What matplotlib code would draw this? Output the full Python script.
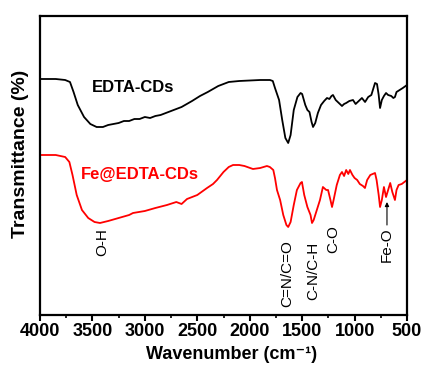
import matplotlib
matplotlib.use("Agg")
import matplotlib.pyplot as plt
from matplotlib.ticker import MultipleLocator

plt.rcParams['font.family'] = ['Liberation Sans', 'DejaVu Sans']

# ---- data (wavenumber in cm^-1, transmittance in arbitrary units) ----
edta_wn = [4000, 3850, 3760, 3714, 3680, 3640, 3580, 3520, 3460, 3400, 3350, 3300, 3250, 3200,
           3150, 3100, 3050, 3000, 2950, 2900, 2850, 2800, 2750, 2700, 2650, 2600, 2550, 2474,
           2400, 2300, 2200, 2100, 2000, 1900, 1807, 1780, 1759, 1720, 1690, 1660, 1633, 1610,
           1580, 1545, 1515, 1500, 1470, 1450, 1430, 1410, 1396, 1375, 1350, 1320, 1290, 1263,
           1240, 1220, 1206, 1180, 1150, 1120, 1100, 1080, 1050, 1015, 990, 960, 930, 900, 870,
           840, 805, 786, 770, 757, 740, 720, 700, 680, 650, 630, 615, 600, 570, 540, 500]
edta_t = [236, 236, 235, 233, 223, 210, 198, 191, 188, 188, 190, 191, 192, 194,
          194, 196, 196, 198, 197, 199, 200, 202, 204, 206, 208, 211, 214, 219,
          223, 229, 233, 234, 234.5, 235, 235, 234, 227, 215, 195, 177, 172, 180,
          205, 218, 222, 221, 210, 205, 203, 193, 188, 192, 202, 210, 214, 217,
          216, 219, 220, 215, 212, 209, 211, 212, 214, 215, 211, 214, 217, 213, 218,
          220, 232, 231, 220, 207, 215, 219, 222, 220, 219, 217, 218, 223, 225, 227, 230]

fe_wn = [4000, 3850, 3760, 3720, 3690, 3650, 3600, 3540, 3480, 3428, 3350, 3250, 3150, 3113,
         3000, 2900, 2789, 2700, 2650, 2598, 2500, 2407, 2350, 2312, 2250, 2200, 2159, 2100,
         2050, 1969, 1900, 1836, 1808, 1775, 1759, 1740, 1710, 1680, 1650, 1633, 1610, 1580,
         1550, 1515, 1502, 1480, 1450, 1420, 1406, 1390, 1360, 1330, 1302, 1270, 1253, 1230,
         1215, 1200, 1170, 1140, 1120, 1100, 1080, 1060, 1044, 1020, 1000, 975, 950, 920, 901,
         880, 850, 805, 790, 770, 757, 740, 720, 700, 680, 660, 640, 615, 600, 580, 550, 500]
fe_t = [160, 160, 158, 153, 140, 120, 105, 97, 93, 92, 94, 97, 100, 102,
        104, 107, 110, 113, 111, 116, 120, 127, 131, 135, 143, 148, 150, 150,
        149, 146, 147, 149, 148, 145, 137, 125, 115, 100, 90, 88, 93, 110,
        125, 132, 133, 120, 108, 100, 92, 95, 105, 115, 128, 125, 125, 115,
        108, 115, 130, 140, 143, 139, 145, 141, 145, 140, 137, 135, 131, 129, 127,
        135, 140, 142, 135, 120, 108, 115, 128, 118, 125, 132, 123, 115, 125, 130, 131, 135]

samples = ["EDTA-CDs", "Fe@EDTA-CDs"]
colors = ["black", "red"]

annot_labels = ["O-H", "C=N/C=O", "C-N/C-H", "C-O", "Fe-O"]
annot_wn = [3409, 1645, 1397, 1206, 691]
annot_t = [87, 75, 73, 90, 88]

xticks = [4000, 3500, 3000, 2500, 2000, 1500, 1000, 500]

# ---- figure ----
fig = plt.figure(figsize=(4.22, 3.65), dpi=100)
ax = fig.add_axes([40/422, 50/365, 367/422, 299/365])

ax.plot(edta_wn, edta_t, color=colors[0], lw=1.3)
ax.plot(fe_wn, fe_t, color=colors[1], lw=1.3)

ax.set_xlim(4000, 500)
ax.set_ylim(0, 299)
ax.set_xticks(xticks)
ax.set_xticklabels([str(v) for v in xticks], fontsize=13, fontweight='bold')
ax.xaxis.set_minor_locator(MultipleLocator(250))
ax.tick_params(axis='x', which='major', direction='out', length=4, width=1.5, pad=2)
ax.tick_params(axis='x', which='minor', direction='out', length=2, width=1.2)
ax.set_yticks([])
for s in ax.spines.values():
    s.set_linewidth(1.6)

ax.set_xlabel("Wavenumber (cm\u207b\u00b9)", fontsize=13, fontweight='bold')
ax.xaxis.set_label_coords(0.523, -0.104)
ax.set_ylabel("Transmittance (%)", fontsize=14, fontweight='bold')
ax.yaxis.set_label_coords(-0.03, 0.538)

ax.text(3504, 228, samples[0], color=colors[0], fontsize=12, fontweight='bold',
        ha='left', va='center')
ax.text(3609, 140, samples[1], color=colors[1], fontsize=12, fontweight='bold',
        ha='left', va='center')

for lab, w, t in zip(annot_labels, annot_wn, annot_t):
    ax.text(w, t, lab, rotation=90, ha='center', va='top', fontsize=11)

ax.annotate("", xy=(annot_wn[4], 113), xytext=(annot_wn[4], 90),
            arrowprops=dict(arrowstyle='-|>', color='black', lw=0.8,
                            mutation_scale=6, shrinkA=0, shrinkB=0))

fig.savefig("out.png", dpi=100)
